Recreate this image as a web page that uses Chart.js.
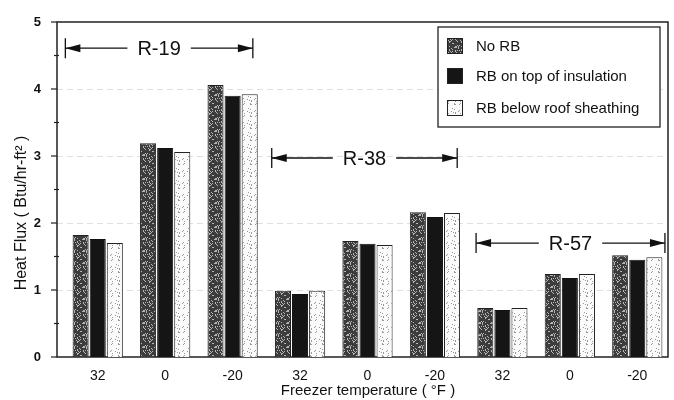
<!DOCTYPE html>
<html><head><meta charset="utf-8">
<script src="https://cdn.jsdelivr.net/npm/chart.js@4"></script>
<style>html,body{margin:0;padding:0;background:#fff}#wrap{width:674px;height:400px}</style>
</head><body><div id="wrap"><canvas id="c" width="674" height="400"></canvas></div>
<script>
const categories = ['32','0','-20','32','0','-20','32','0','-20'];
const seriesNames = ['No RB','RB on top of insulation','RB below roof sheathing'];
const noRB    = [1.82,3.19,4.06,0.99,1.73,2.16,0.73,1.24,1.52];
const rbTop   = [1.76,3.12,3.90,0.94,1.69,2.09,0.70,1.18,1.45];
const rbBelow = [1.70,3.06,3.92,0.99,1.67,2.15,0.73,1.24,1.49];
const yTicks = [0,1,2,3,4,5];
const rLabels = ['R-19','R-38','R-57'];
const rFrom = [-0.48, 2.58, 5.61];
const rTo = [2.3, 5.33, 8.41];
const rLevel = [4.61, 2.97, 1.70];
const yTitle = 'Heat Flux ( Btu/hr-ft² )';
const xTitle = 'Freezer temperature ( °F )';

function makePattern(base, dot, density, seed){
  const c = document.createElement('canvas'); c.width = 12; c.height = 12;
  const g = c.getContext('2d'); g.fillStyle = base; g.fillRect(0,0,12,12);
  g.fillStyle = dot;
  let s = seed;
  for(let i=0;i<density;i++){
    s = (s*9301+49297)%233280;
    const x = Math.floor(s/233280*12);
    s = (s*9301+49297)%233280;
    const y = Math.floor(s/233280*12);
    g.fillRect(x,y,1,1);
  }
  return document.getElementById('c').getContext('2d').createPattern(c,'repeat');
}
const patDark = makePattern('#3c3c3c','#b5b5b5',40,7);
const patLight = makePattern('#fafafa','#9a9a9a',14,3);
const fills = [patDark,'#151515',patLight];

const FONT = "'Liberation Sans', Arial, sans-serif";

const overlay = {
  id:'overlay',
  beforeDatasetsDraw(chart){
    const {ctx, chartArea:a, scales:{x,y}} = chart;
    const fl = a.left-7, fr = a.right-3;
    ctx.save();
    ctx.strokeStyle = '#e0e0e0'; ctx.lineWidth = 1; ctx.setLineDash([6,4]);
    [1,2,3,4].forEach(v=>{ const py=Math.round(y.getPixelForValue(v))+0.5; ctx.beginPath(); ctx.moveTo(fl,py); ctx.lineTo(fr,py); ctx.stroke(); });
    ctx.setLineDash([]);
    ctx.strokeStyle = '#222'; ctx.lineWidth = 1.5;
    ctx.strokeRect(fl, a.top, fr-fl, a.bottom-a.top);
    ctx.lineWidth = 1.2;
    yTicks.forEach(v=>{ const py=y.getPixelForValue(v); ctx.beginPath(); ctx.moveTo(fl-6,py); ctx.lineTo(fl,py); ctx.stroke(); });
    for(let i=0;i<yTicks.length-1;i++){ const py=y.getPixelForValue((yTicks[i]+yTicks[i+1])/2); ctx.beginPath(); ctx.moveTo(fl-3,py); ctx.lineTo(fl+2,py); ctx.stroke(); }
    ctx.fillStyle='#111'; ctx.font='15px '+FONT; ctx.textAlign='center'; ctx.textBaseline='middle';
    ctx.fillText(xTitle, 368, 391);
    ctx.font='16px '+FONT;
    ctx.save(); ctx.translate(22, 213); ctx.rotate(-Math.PI/2); ctx.fillText(yTitle, 0, 0); ctx.restore();
    ctx.restore();
  },
  afterDraw(chart){
    const {ctx, scales:{x,y}} = chart;
    ctx.save();
    ctx.font = '20px '+FONT; ctx.fillStyle='#111'; ctx.strokeStyle='#111'; ctx.lineWidth=1.3;
    ctx.textAlign='center'; ctx.textBaseline='middle';
    for(let i=0;i<rLabels.length;i++){
      const x1=x.getPixelForValue(rFrom[i]), x2=x.getPixelForValue(rTo[i]), py=y.getPixelForValue(rLevel[i]);
      const cx=(x1+x2)/2, tw=ctx.measureText(rLabels[i]).width, gap=tw/2+10;
      ctx.fillText(rLabels[i], cx, py+1);
      ctx.beginPath(); ctx.moveTo(x1,py-10); ctx.lineTo(x1,py+10); ctx.moveTo(x2,py-10); ctx.lineTo(x2,py+10);
      ctx.moveTo(x1,py); ctx.lineTo(cx-gap,py); ctx.moveTo(cx+gap,py); ctx.lineTo(x2,py); ctx.stroke();
      ctx.beginPath(); ctx.moveTo(x1,py); ctx.lineTo(x1+15,py-4); ctx.lineTo(x1+15,py+4); ctx.closePath(); ctx.fill();
      ctx.beginPath(); ctx.moveTo(x2,py); ctx.lineTo(x2-15,py-4); ctx.lineTo(x2-15,py+4); ctx.closePath(); ctx.fill();
    }
    const lx=438, ly=27, lw=222, lh=100;
    ctx.fillStyle='#fff'; ctx.fillRect(lx,ly,lw,lh);
    ctx.strokeStyle='#222'; ctx.lineWidth=1.3; ctx.strokeRect(lx,ly,lw,lh);
    ctx.font='15px '+FONT; ctx.textAlign='left'; ctx.textBaseline='middle';
    const rows=[46,76,108];
    seriesNames.forEach((n,i)=>{
      ctx.fillStyle=fills[i]; ctx.fillRect(447,rows[i]-8,16,16);
      ctx.strokeStyle='#222'; ctx.lineWidth=1; ctx.strokeRect(447.5,rows[i]-7.5,15,15);
      ctx.fillStyle='#111'; ctx.fillText(n,476,rows[i]+1);
    });
    ctx.restore();
  }
};

new Chart(document.getElementById('c'),{
  type:'bar',
  data:{labels:categories,datasets:[
    {label:seriesNames[0],data:noRB,backgroundColor:fills[0],borderColor:'#222',borderWidth:1},
    {label:seriesNames[1],data:rbTop,backgroundColor:fills[1],borderColor:'#111',borderWidth:1},
    {label:seriesNames[2],data:rbBelow,backgroundColor:fills[2],borderColor:'#222',borderWidth:1}
  ]},
  options:{
    responsive:false, animation:false,
    layout:{padding:{top:22,right:3,left:0,bottom:0}},
    datasets:{bar:{categoryPercentage:0.76,barPercentage:0.94}},
    plugins:{legend:{display:false},tooltip:{enabled:false}},
    scales:{
      x:{grid:{display:false},border:{display:false},
        ticks:{color:'#111',font:{family:FONT,size:14},padding:3},
        afterFit(s){s.height=43;}},
      y:{min:0,max:5,afterBuildTicks(s){s.ticks=yTicks.map(v=>({value:v}));},
        grid:{display:false},border:{display:false},
        ticks:{color:'#111',font:{family:FONT,size:13,weight:'bold'},padding:15},
        afterFit(s){s.width=64; s.paddingTop=0; s.paddingBottom=0;}}
    }
  },
  plugins:[overlay]
});
</script></body></html>
